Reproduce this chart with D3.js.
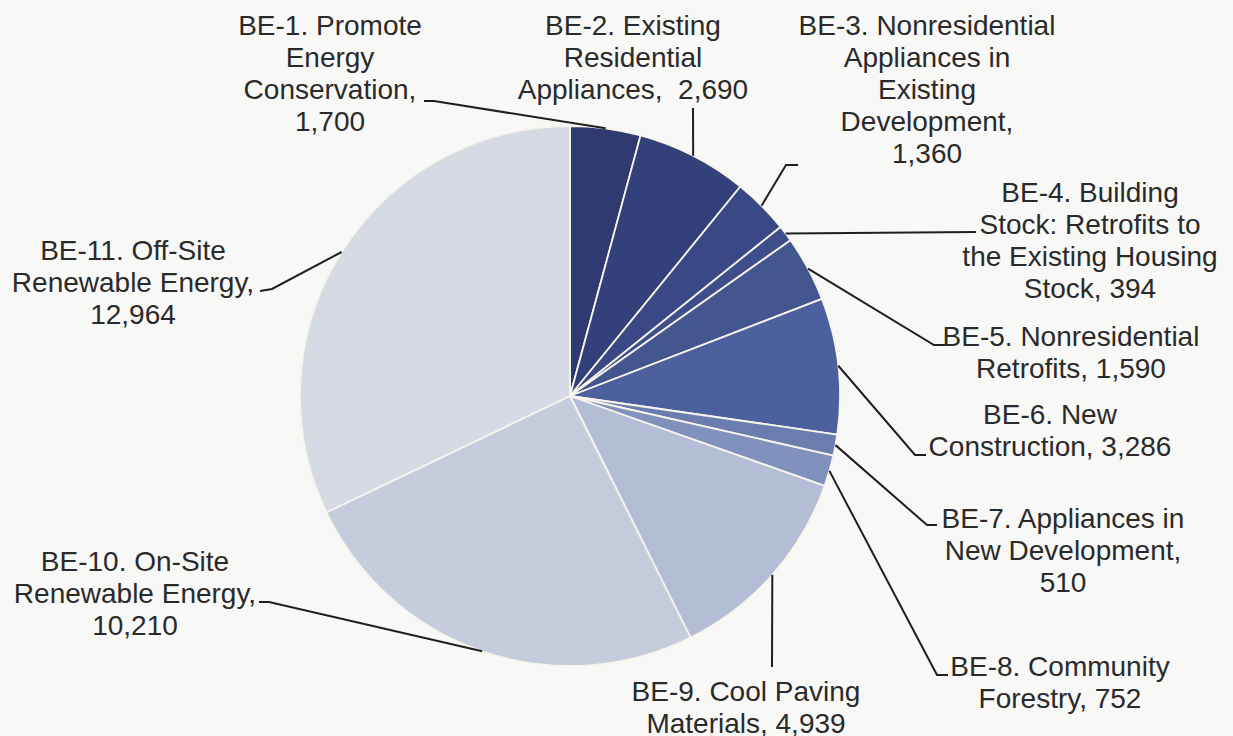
<!DOCTYPE html>
<html>
<head>
<meta charset="utf-8">
<script src="https://cdn.jsdelivr.net/npm/d3@7"></script>
<style>
  html, body { margin: 0; padding: 0; background: #f8f8f6; }
  svg { display: block; }
</style>
</head>
<body>
<svg id="chart" width="1233" height="736"></svg>
<script>
// ---- data ----
const categories = [
  "BE-1. Promote Energy Conservation",
  "BE-2. Existing Residential Appliances",
  "BE-3. Nonresidential Appliances in Existing Development",
  "BE-4. Building Stock: Retrofits to the Existing Housing Stock",
  "BE-5. Nonresidential Retrofits",
  "BE-6. New Construction",
  "BE-7. Appliances in New Development",
  "BE-8. Community Forestry",
  "BE-9. Cool Paving Materials",
  "BE-10. On-Site Renewable Energy",
  "BE-11. Off-Site Renewable Energy"
];
const values = [1700, 2690, 1360, 394, 1590, 3286, 510, 752, 4939, 10210, 12964];
// wrapped label text, "{v}" is replaced by the formatted value
const labelLines = [
  ["BE-1. Promote", "Energy", "Conservation,", "{v}"],
  ["BE-2. Existing", "Residential", "Appliances,  {v}"],
  ["BE-3. Nonresidential", "Appliances in", "Existing", "Development,", "{v}"],
  ["BE-4. Building", "Stock: Retrofits to", "the Existing Housing", "Stock, {v}"],
  ["BE-5. Nonresidential", "Retrofits, {v}"],
  ["BE-6. New", "Construction, {v}"],
  ["BE-7. Appliances in", "New Development,", "{v}"],
  ["BE-8. Community", "Forestry, {v}"],
  ["BE-9. Cool Paving", "Materials, {v}"],
  ["BE-10. On-Site", "Renewable Energy,", "{v}"],
  ["BE-11. Off-Site", "Renewable Energy,", "{v}"]
];

// ---- styles / layout ----
const colors = ["#2f3a70", "#33407a", "#3a4985", "#3e4e8a", "#44568f", "#4b609c",
                "#6b7dae", "#8191bd", "#b3bdd5", "#c5ccdc", "#d6dae3"];
const labelLayout = [
  { x: 330,  y: 25,  pts: [[424, 101], [434, 101]] },
  { x: 633,  y: 25,  pts: [[693, 108]] },
  { x: 927,  y: 25,  pts: [[798, 165], [786, 165]] },
  { x: 1090, y: 192, pts: [[976, 232]] },
  { x: 1071, y: 336, pts: [[945, 345], [934, 345]] },
  { x: 1050, y: 414, pts: [[926, 455], [915, 455]] },
  { x: 1063, y: 518, pts: [[937, 525], [927, 525]] },
  { x: 1060, y: 666, pts: [[948, 675], [937, 675]] },
  { x: 746,  y: 691, pts: [[772, 667]] },
  { x: 135,  y: 561, pts: [[259, 602], [269, 602]] },
  { x: 133,  y: 250, pts: [[260, 291], [272, 289]] }
];
const cx = 570, cy = 396, R = 270;
const lineH = 32;
const fmt = d3.format(",");

const svg = d3.select("#chart");
const g = svg.append("g").attr("transform", `translate(${cx},${cy})`);

const pie = d3.pie().sort(null).value(d => d.value);
const data = categories.map((c, i) => ({ name: c, value: values[i], i }));
const arcs = pie(data);
const arc = d3.arc().innerRadius(0).outerRadius(R);
const edge = d3.arc().innerRadius(R).outerRadius(R);

g.selectAll("path.slice")
  .data(arcs)
  .join("path")
  .attr("class", "slice")
  .attr("d", arc)
  .attr("fill", d => colors[d.data.i])
  .attr("stroke", "#f6f4ec")
  .attr("stroke-width", 1.8)
  .attr("stroke-linejoin", "round");

// leader lines
const line = d3.line();
svg.selectAll("path.leader")
  .data(arcs)
  .join("path")
  .attr("class", "leader")
  .attr("d", d => {
    const c = edge.centroid(d);
    const pts = labelLayout[d.data.i].pts.concat([[c[0] + cx, c[1] + cy]]);
    return line(pts);
  })
  .attr("fill", "none")
  .attr("stroke", "#1f1f1f")
  .attr("stroke-width", 2);

// labels
const labels = svg.selectAll("text.lbl")
  .data(arcs)
  .join("text")
  .attr("class", "lbl")
  .attr("text-anchor", "middle")
  .attr("font-family", "'Liberation Sans', Arial, sans-serif")
  .attr("font-size", 28)
  .attr("fill", "#2a2a2a");

labels.each(function(d) {
  const lay = labelLayout[d.data.i];
  const t = d3.select(this);
  labelLines[d.data.i].forEach((ln, k) => {
    t.append("tspan")
      .attr("x", lay.x)
      .attr("y", lay.y + k * lineH)
      .attr("dy", "0.35em")
      .attr("xml:space", "preserve")
      .text(ln.replace("{v}", fmt(d.data.value)));
  });
});
</script>
</body>
</html>
